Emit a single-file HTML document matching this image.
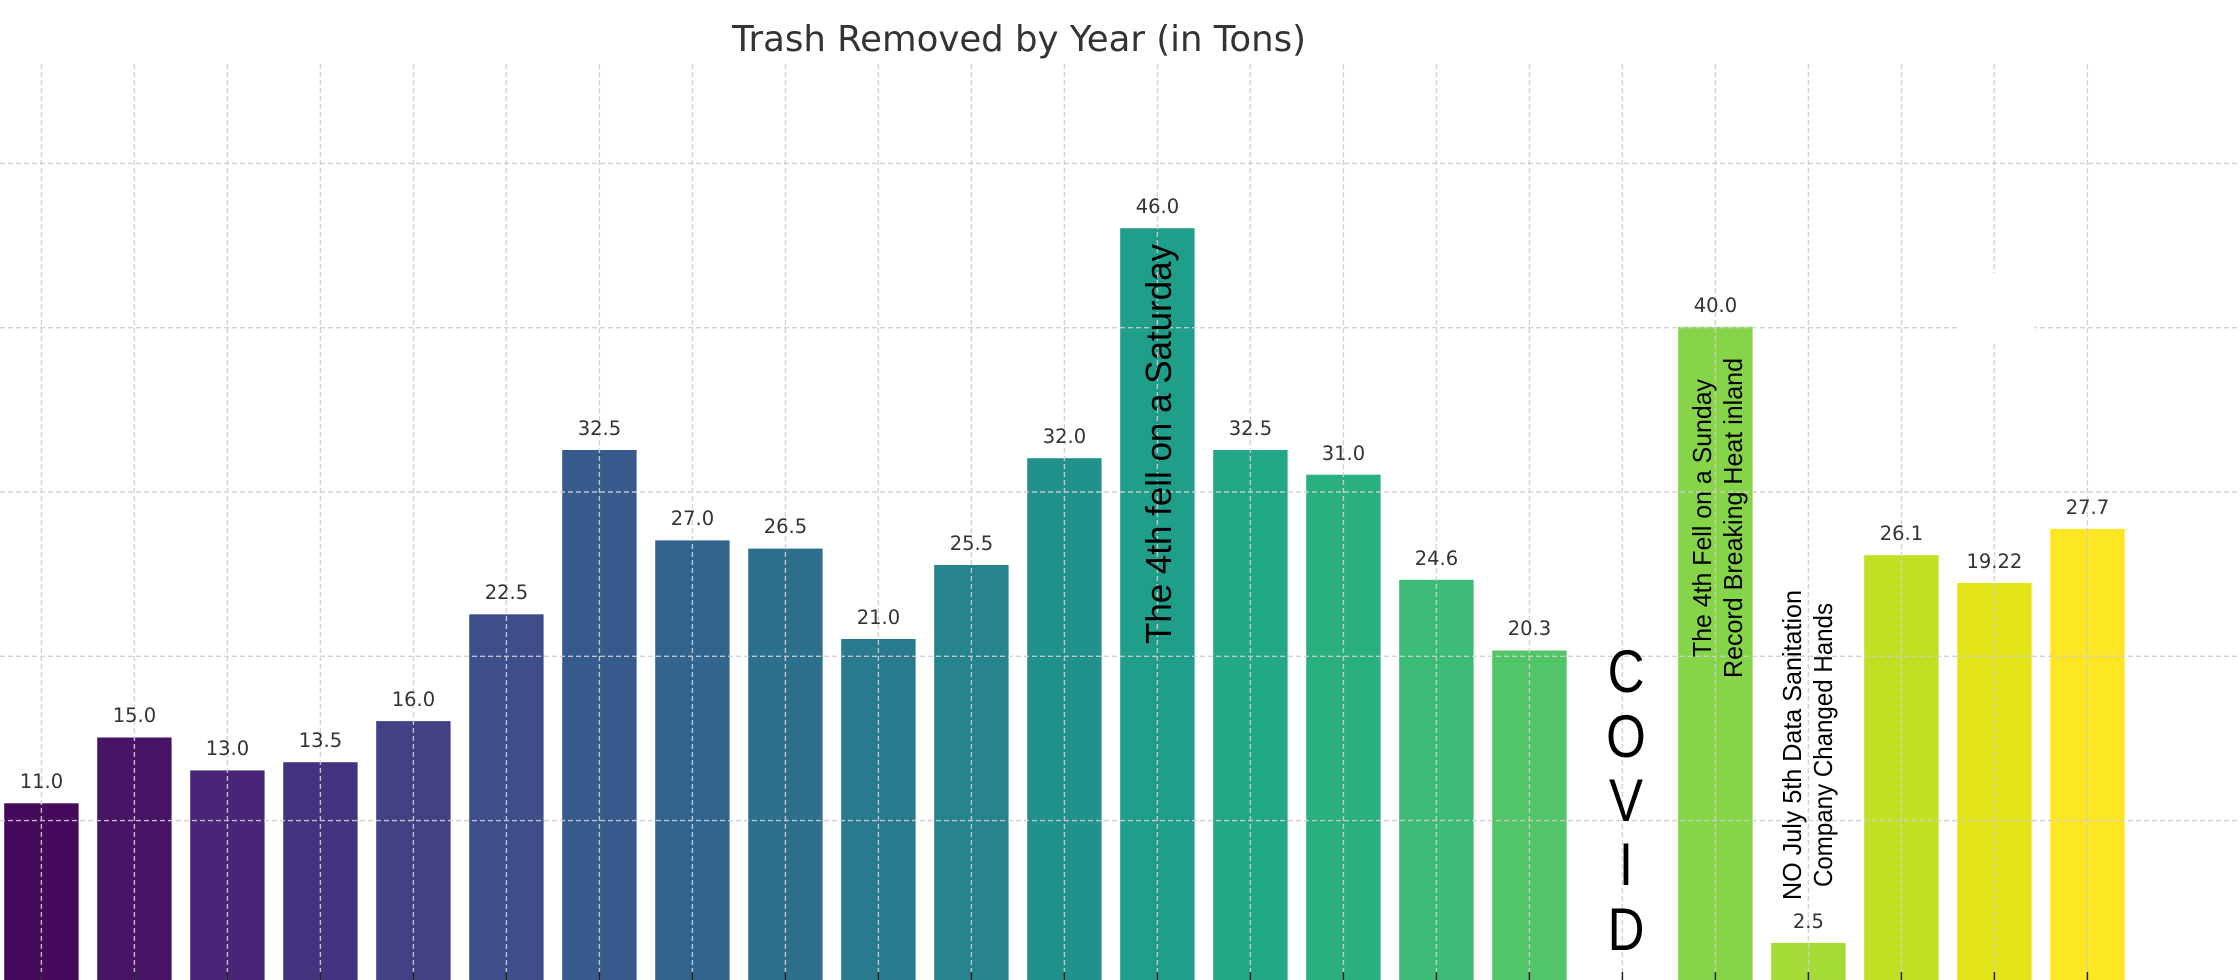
<!DOCTYPE html>
<html><head><meta charset="utf-8"><style>
html,body{margin:0;padding:0;background:#fff;}
svg{display:block;}
.v{font-family:"DejaVu Sans","Liberation Sans",sans-serif;font-size:19.5px;fill:#333;text-anchor:middle;}
.n{font-family:"Liberation Sans Narrow","Liberation Sans",sans-serif;fill:#000;}
</style></head><body>
<svg width="2240" height="980" viewBox="0 0 2240 980" xmlns="http://www.w3.org/2000/svg">
<rect width="2240" height="980" fill="#fff"/>
<text x="1019" y="51" font-family="DejaVu Sans, Liberation Sans, sans-serif" font-size="35.5" fill="#333" text-anchor="middle">Trash Removed by Year (in Tons)</text>
<g>
<rect x="4.2" y="803.3" width="74.4" height="180" fill="#450a5c"/>
<rect x="97.2" y="737.5" width="74.4" height="250" fill="#471365"/>
<rect x="190.2" y="770.4" width="74.4" height="220" fill="#482576"/>
<rect x="283.2" y="762.2" width="74.4" height="220" fill="#46337f"/>
<rect x="376.2" y="721.1" width="74.4" height="270" fill="#424186"/>
<rect x="469.2" y="614.3" width="74.4" height="370" fill="#3d4e8a"/>
<rect x="562.2" y="450" width="74.4" height="540" fill="#375a8c"/>
<rect x="655.2" y="540.4" width="74.4" height="450" fill="#32658e"/>
<rect x="748.2" y="548.6" width="74.4" height="440" fill="#2d708e"/>
<rect x="841.2" y="639" width="74.4" height="350" fill="#297a8e"/>
<rect x="934.2" y="565" width="74.4" height="420" fill="#25848e"/>
<rect x="1027.2" y="458.2" width="74.4" height="530" fill="#21918c"/>
<rect x="1120.2" y="228.2" width="74.4" height="760" fill="#1f9e89"/>
<rect x="1213.2" y="450" width="74.4" height="540" fill="#22a884"/>
<rect x="1306.2" y="474.7" width="74.4" height="510" fill="#2ab07f"/>
<rect x="1399.2" y="579.8" width="74.4" height="410" fill="#3bbb75"/>
<rect x="1492.2" y="650.5" width="74.4" height="340" fill="#52c569"/>
<rect x="1678.2" y="326.8" width="74.4" height="660" fill="#86d549"/>
<rect x="1771.2" y="942.9" width="74.4" height="50" fill="#a5db36"/>
<rect x="1864.2" y="555.2" width="74.4" height="430" fill="#c2df23"/>
<rect x="1957.2" y="583" width="74.4" height="400" fill="#e2e418"/>
<rect x="2050.2" y="528.9" width="74.4" height="460" fill="#fde725"/>
</g>
<g stroke="#cfcfcf" stroke-width="1.4" stroke-dasharray="5,3" opacity="0.9">
<line x1="0" x2="2240" y1="163.4" y2="163.4"/>
<line x1="0" x2="2240" y1="327.7" y2="327.7"/>
<line x1="0" x2="2240" y1="492" y2="492"/>
<line x1="0" x2="2240" y1="656.3" y2="656.3"/>
<line x1="0" x2="2240" y1="820.6" y2="820.6"/>
<line x1="41.4" x2="41.4" y1="64" y2="980"/>
<line x1="134.4" x2="134.4" y1="64" y2="980"/>
<line x1="227.4" x2="227.4" y1="64" y2="980"/>
<line x1="320.4" x2="320.4" y1="64" y2="980"/>
<line x1="413.4" x2="413.4" y1="64" y2="980"/>
<line x1="506.4" x2="506.4" y1="64" y2="980"/>
<line x1="599.4" x2="599.4" y1="64" y2="980"/>
<line x1="692.4" x2="692.4" y1="64" y2="980"/>
<line x1="785.4" x2="785.4" y1="64" y2="980"/>
<line x1="878.4" x2="878.4" y1="64" y2="980"/>
<line x1="971.4" x2="971.4" y1="64" y2="980"/>
<line x1="1064.4" x2="1064.4" y1="64" y2="980"/>
<line x1="1157.4" x2="1157.4" y1="64" y2="980"/>
<line x1="1250.4" x2="1250.4" y1="64" y2="980"/>
<line x1="1343.4" x2="1343.4" y1="64" y2="980"/>
<line x1="1436.4" x2="1436.4" y1="64" y2="980"/>
<line x1="1529.4" x2="1529.4" y1="64" y2="980"/>
<line x1="1622.4" x2="1622.4" y1="64" y2="980"/>
<line x1="1715.4" x2="1715.4" y1="64" y2="980"/>
<line x1="1808.4" x2="1808.4" y1="64" y2="980"/>
<line x1="1901.4" x2="1901.4" y1="64" y2="980"/>
<line x1="1994.4" x2="1994.4" y1="64" y2="980"/>
<line x1="2087.4" x2="2087.4" y1="64" y2="980"/>
</g>
<rect x="1957" y="273" width="77" height="70" fill="#fff"/>
<g stroke="#222" stroke-width="1.5">
<line x1="41.4" x2="41.4" y1="972" y2="980"/><line x1="134.4" x2="134.4" y1="972" y2="980"/><line x1="227.4" x2="227.4" y1="972" y2="980"/><line x1="320.4" x2="320.4" y1="972" y2="980"/><line x1="413.4" x2="413.4" y1="972" y2="980"/><line x1="506.4" x2="506.4" y1="972" y2="980"/><line x1="599.4" x2="599.4" y1="972" y2="980"/><line x1="692.4" x2="692.4" y1="972" y2="980"/><line x1="785.4" x2="785.4" y1="972" y2="980"/><line x1="878.4" x2="878.4" y1="972" y2="980"/><line x1="971.4" x2="971.4" y1="972" y2="980"/><line x1="1064.4" x2="1064.4" y1="972" y2="980"/><line x1="1157.4" x2="1157.4" y1="972" y2="980"/><line x1="1250.4" x2="1250.4" y1="972" y2="980"/><line x1="1343.4" x2="1343.4" y1="972" y2="980"/><line x1="1436.4" x2="1436.4" y1="972" y2="980"/><line x1="1529.4" x2="1529.4" y1="972" y2="980"/><line x1="1622.4" x2="1622.4" y1="972" y2="980"/><line x1="1715.4" x2="1715.4" y1="972" y2="980"/><line x1="1808.4" x2="1808.4" y1="972" y2="980"/><line x1="1901.4" x2="1901.4" y1="972" y2="980"/><line x1="1994.4" x2="1994.4" y1="972" y2="980"/><line x1="2087.4" x2="2087.4" y1="972" y2="980"/>
</g>
<g class="v">
<text x="41.4" y="788">11.0</text>
<text x="134.4" y="722">15.0</text>
<text x="227.4" y="755">13.0</text>
<text x="320.4" y="747">13.5</text>
<text x="413.4" y="706">16.0</text>
<text x="506.4" y="599">22.5</text>
<text x="599.4" y="435">32.5</text>
<text x="692.4" y="525">27.0</text>
<text x="785.4" y="533">26.5</text>
<text x="878.4" y="624">21.0</text>
<text x="971.4" y="550">25.5</text>
<text x="1064.4" y="443">32.0</text>
<text x="1157.4" y="213">46.0</text>
<text x="1250.4" y="435">32.5</text>
<text x="1343.4" y="460">31.0</text>
<text x="1436.4" y="565">24.6</text>
<text x="1529.4" y="635">20.3</text>
<text x="1715.4" y="312">40.0</text>
<text x="1808.4" y="928">2.5</text>
<text x="1901.4" y="540">26.1</text>
<text x="1994.4" y="568">19.22</text>
<text x="2087.4" y="514">27.7</text>
</g>
<text class="n" font-size="36" transform="translate(1171,644) rotate(-90)" textLength="400" lengthAdjust="spacingAndGlyphs">The 4th fell on a Saturday</text>
<g class="n" font-size="60" text-anchor="middle" transform="translate(1626,0) scale(0.85,1)">
<text x="0" y="692">C</text>
<text x="0" y="757">O</text>
<text x="0" y="821">V</text>
<text x="0" y="885">I</text>
<text x="0" y="950">D</text>
</g>
<g class="n" font-size="26" text-anchor="middle">
<text transform="translate(1711,518) rotate(-90)" textLength="278" lengthAdjust="spacingAndGlyphs">The 4th Fell on a Sunday</text>
<text transform="translate(1742,518) rotate(-90)" textLength="320" lengthAdjust="spacingAndGlyphs">Record Breaking Heat inland</text>
<text transform="translate(1801,745) rotate(-90)" textLength="310" lengthAdjust="spacingAndGlyphs">NO July 5th Data Sanitation</text>
<text transform="translate(1832,745) rotate(-90)" textLength="284" lengthAdjust="spacingAndGlyphs">Company Changed Hands</text>
</g>
</svg>
</body></html>
